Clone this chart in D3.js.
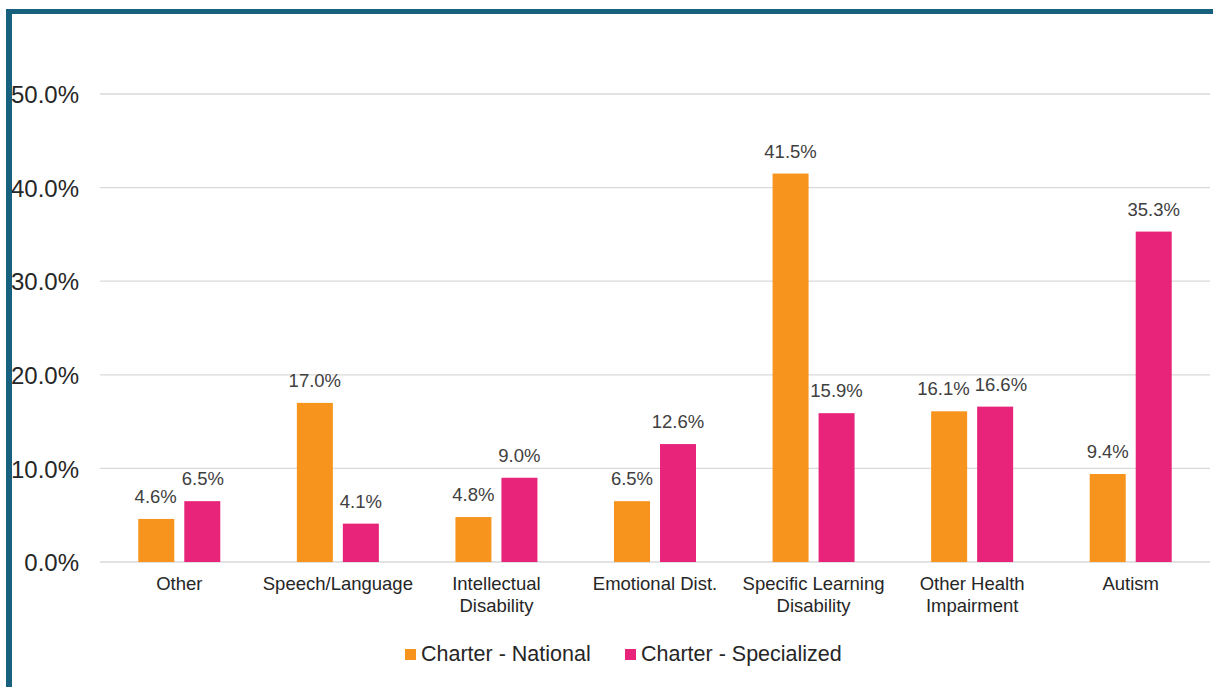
<!DOCTYPE html>
<html>
<head>
<meta charset="utf-8">
<script src="https://cdn.jsdelivr.net/npm/d3@7"></script>
<style>
  html, body { margin: 0; padding: 0; background: #fff; }
  svg { display: block; font-family: "Liberation Sans", Arial, sans-serif; }
</style>
</head>
<body>
<svg id="chart" width="1213" height="687"></svg>
<script>
const categories = [
  ["Other"],
  ["Speech/Language"],
  ["Intellectual", "Disability"],
  ["Emotional Dist."],
  ["Specific Learning", "Disability"],
  ["Other Health", "Impairment"],
  ["Autism"]
];
const seriesNames = ["Charter - National", "Charter - Specialized"];
const national = [4.6, 17.0, 4.8, 6.5, 41.5, 16.1, 9.4];
const specialized = [6.5, 4.1, 9.0, 12.6, 15.9, 16.6, 35.3];
const yTicks = [0, 10, 20, 30, 40, 50];
const colors = ["#F7941D", "#E8247A"];

const svg = d3.select("#chart");

const catKeys = categories.map(c => c.join(" "));
const x = d3.scaleBand().domain(catKeys).range([100, 1210]).padding(0);
const y = d3.scaleLinear().domain([0, 50]).range([562, 94]);

// gridlines
svg.append("g").selectAll("line").data(yTicks).join("line")
  .attr("x1", 100).attr("x2", 1210)
  .attr("y1", d => y(d)).attr("y2", d => y(d))
  .attr("stroke", "#d9d9d9").attr("stroke-width", 1.3);

// y axis labels
const yAxis = d3.axisLeft(y).tickValues(yTicks).tickFormat(d => d.toFixed(1) + "%").tickSize(0).tickPadding(0);
const gy = svg.append("g").attr("transform", "translate(79,0)").call(yAxis);
gy.select(".domain").remove();
gy.selectAll("text").attr("font-size", 24).attr("fill", "#262626")
  .attr("font-family", "'Liberation Sans', Arial, sans-serif").attr("dy", "0.36em");

// bars
const bw = 36;
const offsets = [-41, 5];
const series = [national, specialized];
const labelSel = [];
series.forEach((vals, si) => {
  const g = svg.append("g");
  g.selectAll("rect").data(vals).join("rect")
    .attr("x", (d, i) => x(catKeys[i]) + x.bandwidth() / 2 + offsets[si])
    .attr("width", bw)
    .attr("y", d => y(d))
    .attr("height", d => y(0) - y(d))
    .attr("fill", colors[si]);
  labelSel.push(g.selectAll("text").data(vals).join("text")
    .attr("x", (d, i) => x(catKeys[i]) + x.bandwidth() / 2 + offsets[si] + bw / 2)
    .attr("y", d => y(d) - 16)
    .attr("text-anchor", "middle")
    .attr("font-size", 18.5)
    .attr("fill", "#404040")
    .text(d => d.toFixed(1) + "%"));
});

// simple label collision avoidance within a group
catKeys.forEach((k, i) => {
  const a = labelSel[0].nodes()[i], b = labelSel[1].nodes()[i];
  const ya = +a.getAttribute("y"), yb = +b.getAttribute("y");
  if (Math.abs(ya - yb) < 18) {
    const xa = +a.getAttribute("x"), xb = +b.getAttribute("x");
    const need = (a.getComputedTextLength() + b.getComputedTextLength()) / 2 + 5;
    const dist = xb - xa;
    if (dist < need) {
      const s = (need - dist) / 2;
      a.setAttribute("x", xa - s);
      b.setAttribute("x", xb + s);
    }
  }
});

// category labels
const gx = svg.append("g");
categories.forEach((lines, i) => {
  const t = gx.append("text")
    .attr("x", x(catKeys[i]) + x.bandwidth() / 2)
    .attr("y", 590)
    .attr("text-anchor", "middle")
    .attr("font-size", 18.5)
    .attr("fill", "#262626");
  lines.forEach((l, j) => {
    t.append("tspan").attr("x", x(catKeys[i]) + x.bandwidth() / 2).attr("dy", j === 0 ? 0 : 22).text(l);
  });
});

// legend
const legendX = [405, 625];
seriesNames.forEach((name, i) => {
  svg.append("rect").attr("x", legendX[i]).attr("y", 649).attr("width", 11).attr("height", 11).attr("fill", colors[i]);
  svg.append("text").attr("x", legendX[i] + 16).attr("y", 661)
    .attr("font-size", 21.5).attr("fill", "#262626").text(name);
});

// frame border (drawn last so it overlaps the tick labels)
svg.append("rect").attr("x", 6).attr("y", 9).attr("width", 1207).attr("height", 5).attr("fill", "#17607E");
svg.append("rect").attr("x", 6).attr("y", 9).attr("width", 6).attr("height", 678).attr("fill", "#17607E");
</script>
</body>
</html>
